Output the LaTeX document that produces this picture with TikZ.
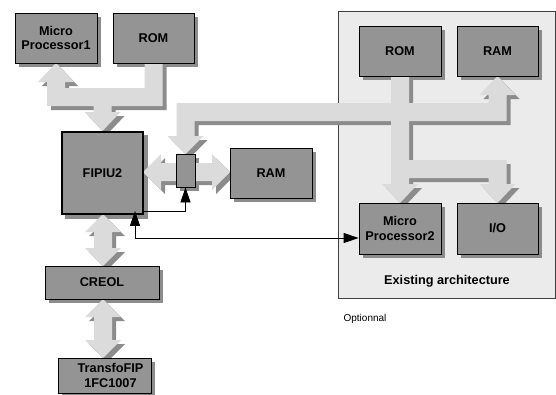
\documentclass[tikz,border=0pt]{standalone}
\usepackage{fontspec}
\setmainfont{Liberation Sans}
\usetikzlibrary{arrows.meta}
\pgfdeclarelayer{bg}
\pgfdeclarelayer{shad}
\pgfdeclarelayer{arr}
\pgfsetlayers{bg,shad,arr,main}
\definecolor{boxgray}{gray}{0.58}
\definecolor{boxshadow}{gray}{0.55}
\definecolor{arrowfill}{gray}{0.86}
\definecolor{arrowshadow}{gray}{0.55}
\definecolor{archgray}{gray}{0.92}
\begin{document}
\begin{tikzpicture}[x=1pt,y=-1pt,
  box/.style={draw=black,line width=0.8pt,fill=boxgray,inner sep=0pt,align=center,
    font=\fontsize{12.7}{14.5}\selectfont\bfseries,minimum width=82pt,minimum height=50pt},
  tip/.style={Triangle[length=15pt,width=10pt]},
  thinarrow/.style={line width=0.8pt,-{Triangle[length=15pt,width=10pt]}},
  lbl/.style={font=\fontsize{12.7}{14.5}\selectfont\bfseries,inner sep=0pt},
]
\useasboundingbox (0,0) rectangle (556,394);

% existing architecture frame
\begin{pgfonlayer}{bg}
\node[draw=black!75,line width=0.8pt,fill=archgray,minimum width=217pt,minimum height=287pt,inner sep=0pt] (arch) at (446.5,154.5) {};
\end{pgfonlayer}

% boxes
\node[box] (mp1) at (56,38) {Micro\\Processor1};
\node[box,minimum width=81pt] (rom1) at (153.5,38) {ROM};
\node[box,line width=1.8pt,minimum width=81pt,minimum height=82pt] (fipiu) at (102.5,173) {FIPIU2};
\node[box,minimum width=19pt,minimum height=33pt] (sw) at (185.5,170.5) {};
\node[box] (ram1) at (271,173) {RAM};
\node[box,minimum width=114pt,minimum height=33pt] (creol) at (102,282.5) {CREOL};
\node[box,minimum width=93pt,minimum height=35pt] (transfo) at (104.5,375.5) {\hspace*{12pt}TransfoFIP\\\hspace*{12pt}1FC1007};
\node[box] (rom2) at (400,51) {ROM};
\node[box,minimum width=81pt] (ram2) at (497.5,51) {RAM};
\node[box,minimum height=51pt] (mp2) at (400,228.5) {Micro\\Processor2};
\node[box,minimum width=81pt,minimum height=51pt] (io) at (497.5,228.5) {I/O};

\node[lbl] (archlabel) at (447,281) {Existing architecture};
\node[font=\fontsize{10}{12}\selectfont,inner sep=0pt] (opt) at (365,319) {Optionnal};

% box shadows
\begin{pgfonlayer}{shad}
\foreach \n in {mp1,rom1,fipiu,sw,ram1,creol,transfo,rom2,ram2,mp2,io}
  \fill[boxshadow] ([shift={(4pt,-4pt)}]\n.south west) rectangle ([shift={(4pt,-4pt)}]\n.north east);
\end{pgfonlayer}

% block arrows (shadow first, then fill)
\begin{pgfonlayer}{arr}
\foreach \s/\c in {4/arrowshadow,0/arrowfill} {
  \begin{scope}[shift={(\s,\s)}]
  % ROM1 -> MP1 / FIPIU2 bus
  \fill[\c] (144.5,63) -- (162.5,63) -- (162.5,106) -- (111.5,106) -- (111.5,112) -- (120.5,112)
     -- (102.5,131) -- (84.5,112) -- (93.5,112) -- (93.5,106) -- (47,106) -- (47,82) -- (38,82)
     -- (56,63) -- (74,82) -- (65,82) -- (65,88) -- (144.5,88) -- cycle;
  % bus from switch to RAM2
  \fill[\c] (185.5,154) -- (167.5,136) -- (176.5,136) -- (176.5,103) -- (488.5,103) -- (488.5,95)
     -- (479.5,95) -- (497.5,76) -- (515.5,95) -- (506.5,95) -- (506.5,121) -- (194.5,121)
     -- (194.5,136) -- (203.5,136) -- cycle;
  % ROM2 -> MP2 / IO
  \fill[\c] (391,76) -- (409,76) -- (409,160) -- (506.5,160) -- (506.5,184) -- (515.5,184)
     -- (497.5,203) -- (479.5,184) -- (488.5,184) -- (488.5,178) -- (409,178) -- (409,184)
     -- (418,184) -- (400,203) -- (382,184) -- (391,184) -- cycle;
  % FIPIU2 <-> RAM
  \fill[\c] (143,172) -- (161,154) -- (161,163) -- (212,163) -- (212,154) -- (230,172)
     -- (212,190) -- (212,181) -- (161,181) -- (161,190) -- cycle;
  % FIPIU2 <-> CREOL
  \fill[\c] (103,214) -- (121,232) -- (112,232) -- (112,248) -- (121,248) -- (103,266)
     -- (85,248) -- (94,248) -- (94,232) -- (85,232) -- cycle;
  % CREOL <-> TransfoFIP
  \fill[\c] (103,299) -- (121,317) -- (112,317) -- (112,340) -- (121,340) -- (103,358)
     -- (85,340) -- (94,340) -- (94,317) -- (85,317) -- cycle;
  \end{scope}
}
\end{pgfonlayer}

% thin connectors
\draw[thinarrow] ([yshift=-38pt]fipiu.east) -| (sw.south);
\draw[line width=0.8pt,{Triangle[length=15pt,width=10pt]}-{Triangle[length=15pt,width=10pt]},shorten <=-4pt]
  ([xshift=32.5pt]fipiu.south) |- ([yshift=-9.5pt]mp2.west);
\end{tikzpicture}
\end{document}
